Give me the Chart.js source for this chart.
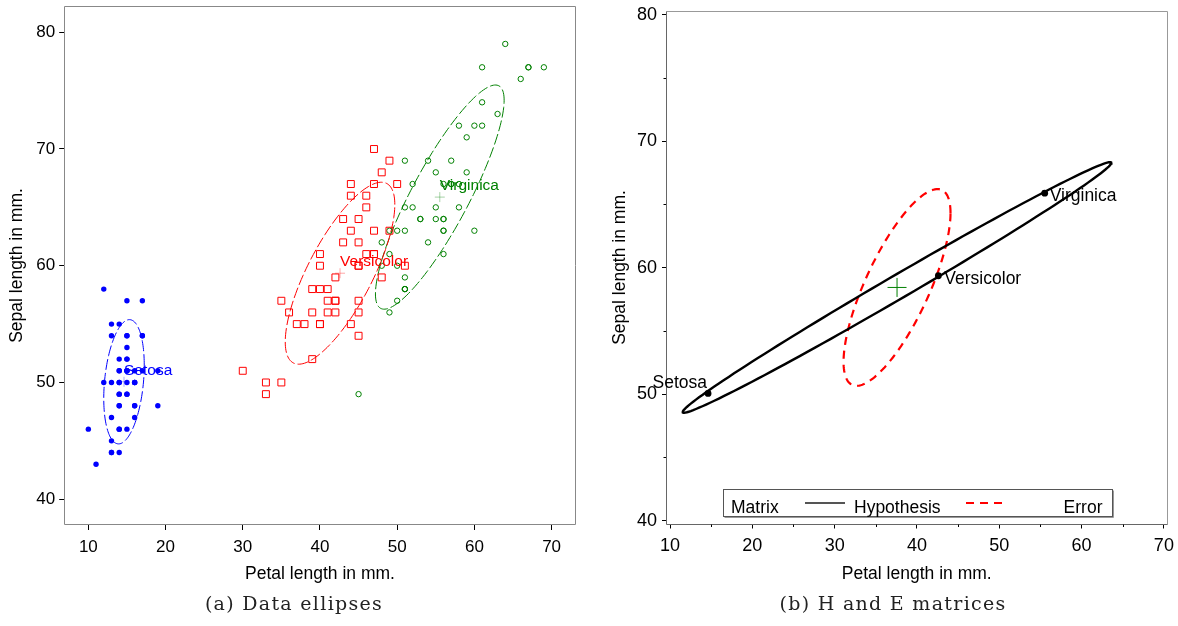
<!DOCTYPE html>
<html>
<head>
<meta charset="utf-8">
<script src="https://cdn.jsdelivr.net/npm/chart.js@4.4.1/dist/chart.umd.min.js"></script>
<style>
  html, body { margin: 0; padding: 0; background: #fff; }
  body { width: 1178px; height: 626px; position: relative; overflow: hidden; }
  canvas { position: absolute; top: 0; }
  #cLeft { left: 0; }
  #cRight { left: 600px; }
  .caption {
    position: absolute; top: 592.7px; line-height: 20px;
    font-family: 'DejaVu Serif', 'Liberation Serif', serif; font-size: 19px;
    letter-spacing: 1.3px; color: #222; white-space: nowrap;
    transform: translateX(-50%);
  }
</style>
</head>
<body>
<canvas id="cLeft" width="600" height="626"></canvas>
<canvas id="cRight" width="578" height="626"></canvas>
<div class="caption" style="left:294px">(a) Data ellipses</div>
<div class="caption" style="left:893px">(b) H and E matrices</div>
<script>
// Iris data, petal length and sepal length in mm, one pair of arrays per species
const SPECIES = ['Setosa', 'Versicolor', 'Virginica'];

const SETOSA_PETAL = [14, 14, 13, 15, 14, 17, 14, 15, 14, 15, 15, 16, 14, 11, 12, 15, 13, 14, 17, 15,
  17, 15, 10, 17, 19, 16, 16, 15, 14, 16, 16, 15, 15, 14, 15, 12, 13, 14, 13, 15,
  13, 13, 13, 16, 19, 14, 16, 14, 15, 14];
const SETOSA_SEPAL = [51, 49, 47, 46, 50, 54, 46, 50, 44, 49, 54, 48, 48, 43, 58, 57, 54, 51, 57, 51,
  54, 51, 46, 51, 48, 50, 50, 52, 52, 47, 48, 54, 52, 55, 49, 50, 55, 49, 44, 51,
  50, 45, 44, 50, 51, 48, 51, 46, 53, 50];

const VERSICOLOR_PETAL = [47, 45, 49, 40, 46, 45, 47, 33, 46, 39, 35, 42, 40, 47, 36, 44, 45, 41, 45, 39,
  48, 40, 49, 47, 43, 44, 48, 50, 45, 35, 38, 37, 39, 51, 45, 45, 47, 44, 41, 40,
  44, 46, 40, 33, 42, 42, 42, 43, 30, 41];
const VERSICOLOR_SEPAL = [70, 64, 69, 55, 65, 57, 63, 49, 66, 52, 50, 59, 60, 61, 56, 67, 56, 58, 62, 56,
  59, 61, 63, 61, 64, 66, 68, 67, 60, 57, 55, 55, 58, 60, 54, 60, 67, 63, 56, 55,
  55, 61, 58, 50, 56, 57, 57, 62, 51, 57];

const VIRGINICA_PETAL = [60, 51, 59, 56, 58, 66, 45, 63, 58, 61, 51, 53, 55, 50, 51, 53, 55, 67, 69, 50,
  57, 49, 67, 49, 57, 60, 48, 49, 56, 58, 61, 64, 56, 51, 56, 61, 56, 55, 48, 54,
  56, 51, 51, 59, 57, 52, 50, 52, 54, 51];
const VIRGINICA_SEPAL = [63, 58, 71, 63, 65, 76, 49, 73, 67, 72, 65, 64, 68, 57, 58, 64, 65, 77, 77, 60,
  69, 56, 77, 63, 67, 72, 62, 61, 64, 72, 74, 79, 64, 63, 61, 77, 63, 64, 60, 69,
  67, 69, 58, 68, 67, 67, 63, 65, 62, 59];

const X_TICKS = [10, 20, 30, 40, 50, 60, 70];
const Y_TICKS = [40, 50, 60, 70, 80];
const X_MINOR = [15, 25, 35, 45, 55, 65];
const Y_MINOR = [45, 55, 65, 75];

const LEGEND_TITLE = 'Matrix';
const LEGEND_ITEMS = ['Hypothesis', 'Error'];

// ellipse radius for 68% coverage
const ELLIPSE_C = 1.51;

const FONT = "'Liberation Sans', Arial, Helvetica, sans-serif";
const COLORS = ['#0000ff', '#ff0000', '#008000'];
const LIGHT = ['rgba(0,0,255,0.35)', 'rgba(255,0,0,0.35)', 'rgba(0,128,0,0.35)'];

Chart.defaults.font.family = FONT;
Chart.defaults.color = '#000';

// ---- stats ----
function meanOf(a) { return a.reduce((s, v) => s + v, 0) / a.length; }

function groupStats(xs, ys) {
  const mx = meanOf(xs), my = meanOf(ys);
  let sxx = 0, syy = 0, sxy = 0;
  xs.forEach((x, i) => {
    const dx = x - mx, dy = ys[i] - my;
    sxx += dx * dx; syy += dy * dy; sxy += dx * dy;
  });
  return { n: xs.length, mx, my, sxx, syy, sxy };
}

function ellipse(cx, cy, vxx, vyy, vxy, c) {
  const sx = Math.sqrt(vxx), sy = Math.sqrt(vyy), r = vxy / (sx * sy);
  const pts = [];
  for (let i = 0; i <= 160; i++) {
    const t = i / 160 * 2 * Math.PI;
    pts.push({
      x: cx + c * sx * Math.cos(t),
      y: cy + c * sy * (r * Math.cos(t) + Math.sqrt(1 - r * r) * Math.sin(t)),
    });
  }
  return pts;
}

const groups = [
  [SETOSA_PETAL, SETOSA_SEPAL],
  [VERSICOLOR_PETAL, VERSICOLOR_SEPAL],
  [VIRGINICA_PETAL, VIRGINICA_SEPAL],
];
const stats = groups.map(g => groupStats(g[0], g[1]));
const points = groups.map(g => g[0].map((x, i) => ({ x, y: g[1][i] })));

const N = stats.reduce((s, g) => s + g.n, 0);
const dfe = N - stats.length;
const grand = {
  x: meanOf([].concat(...groups.map(g => g[0]))),
  y: meanOf([].concat(...groups.map(g => g[1]))),
};
const E = { xx: 0, yy: 0, xy: 0 };
const H = { xx: 0, yy: 0, xy: 0 };
stats.forEach(g => {
  E.xx += g.sxx; E.yy += g.syy; E.xy += g.sxy;
  const dx = g.mx - grand.x, dy = g.my - grand.y;
  H.xx += g.n * dx * dx; H.yy += g.n * dy * dy; H.xy += g.n * dx * dy;
});

// ---- shared bits ----
function fixedTicks(values) {
  return scale => { scale.ticks = values.map(v => ({ value: v })); };
}
function fitX(h) {
  return s => { s.height = h; s.paddingLeft = 0; s.paddingRight = 0; };
}
function fitY(w) {
  return s => { s.width = w; s.paddingTop = 0; s.paddingBottom = 0; };
}

const framePlugin = {
  id: 'frame',
  beforeDatasetsDraw(chart, args, opts) {
    const { ctx, chartArea: a } = chart;
    const l = Math.round(a.left) + 0.5, t = Math.round(a.top) + 0.5;
    const r = Math.round(a.right) - 0.5, b = Math.round(a.bottom) - 0.5;
    ctx.save();
    ctx.lineWidth = 1;
    ctx.strokeStyle = opts.other;
    ctx.beginPath();
    ctx.moveTo(l, t); ctx.lineTo(r, t); ctx.lineTo(r, b);
    ctx.stroke();
    ctx.strokeStyle = opts.axes;
    ctx.beginPath();
    ctx.moveTo(l, t); ctx.lineTo(l, b); ctx.lineTo(r, b);
    ctx.stroke();
    ctx.restore();
  },
};

// ---- left: data ellipses ----
const leftLabels = {
  id: 'leftLabels',
  afterDatasetsDraw(chart) {
    const { ctx, scales: { x, y } } = chart;
    ctx.save();
    ctx.font = '15.5px ' + FONT;
    ctx.textBaseline = 'middle';
    ctx.textAlign = 'left';
    stats.forEach((g, i) => {
      ctx.fillStyle = COLORS[i];
      ctx.fillText(SPECIES[i], x.getPixelForValue(g.mx), y.getPixelForValue(g.my) - 11.5);
    });
    ctx.restore();
  },
};

const leftDatasets = [
  { data: points[0], pointStyle: 'circle', pointRadius: 2.7, backgroundColor: COLORS[0], borderColor: COLORS[0], borderWidth: 0 },
  { data: points[1], pointStyle: 'rect', pointRadius: 4.9, backgroundColor: 'rgba(0,0,0,0)', borderColor: COLORS[1], borderWidth: 1 },
  { data: points[2], pointStyle: 'circle', pointRadius: 2.7, backgroundColor: 'rgba(0,0,0,0)', borderColor: COLORS[2], borderWidth: 1 },
];
stats.forEach((g, i) => {
  leftDatasets.push({
    data: ellipse(g.mx, g.my, g.sxx / (g.n - 1), g.syy / (g.n - 1), g.sxy / (g.n - 1), ELLIPSE_C),
    showLine: true, pointRadius: 0, borderColor: COLORS[i], borderWidth: 1,
    borderDash: [11, 3], fill: false, tension: 0,
  });
  leftDatasets.push({
    data: [{ x: g.mx, y: g.my }], pointStyle: 'cross', pointRadius: 5,
    borderColor: LIGHT[i], borderWidth: 1,
  });
});

function axisX(min, max, opts) {
  return {
    type: 'linear', min, max,
    afterBuildTicks: fixedTicks(X_TICKS),
    afterFit: fitX(opts.height),
    grid: { drawOnChartArea: false, drawTicks: true, tickLength: opts.tick, color: '#000', tickColor: '#000' },
    border: { display: false },
    ticks: { padding: opts.pad, color: '#000', maxRotation: 0, autoSkip: false, font: { size: opts.size } },
    title: { display: true, text: 'Petal length in mm.', color: '#000', font: { size: 17.5 }, padding: { top: 0, bottom: 0 } },
  };
}
function axisY(min, max, opts) {
  return {
    type: 'linear', min, max,
    afterBuildTicks: fixedTicks(Y_TICKS),
    afterFit: fitY(opts.width),
    grid: { drawOnChartArea: false, drawTicks: true, tickLength: opts.tick, color: '#000', tickColor: '#000' },
    border: { display: false },
    ticks: { padding: opts.pad, color: '#000', autoSkip: false, font: { size: opts.size } },
    title: { display: true, text: 'Sepal length in mm.', color: '#000', font: { size: 17.5 }, padding: { top: opts.titlePad, bottom: 0 } },
  };
}

new Chart(document.getElementById('cLeft'), {
  type: 'scatter',
  data: { datasets: leftDatasets },
  options: {
    responsive: false,
    animation: false,
    layout: { padding: { left: 0, top: 5.7, right: 23.7, bottom: 41.5 } },
    plugins: {
      legend: { display: false },
      tooltip: { enabled: false },
      frame: { axes: '#888', other: '#888' },
    },
    scales: {
      x: axisX(6.81, 73.2, { height: 59.5, tick: 5, pad: 7, size: 17 }),
      y: axisY(37.79, 82.25, { width: 63.7, tick: 4.5, pad: 4, size: 17, titlePad: 6.5 }),
    },
  },
  plugins: [framePlugin, leftLabels],
});

// ---- right: H and E matrices ----
const rightExtras = {
  id: 'rightExtras',
  afterDatasetsDraw(chart) {
    const { ctx, chartArea: a, scales: { x, y } } = chart;
    ctx.save();
    // minor ticks
    ctx.strokeStyle = '#000';
    ctx.lineWidth = 1;
    ctx.beginPath();
    X_MINOR.forEach(v => {
      const px = Math.round(x.getPixelForValue(v)) + 0.5;
      ctx.moveTo(px, a.bottom); ctx.lineTo(px, a.bottom + 2.5);
    });
    Y_MINOR.forEach(v => {
      const py = Math.round(y.getPixelForValue(v)) + 0.5;
      ctx.moveTo(a.left, py); ctx.lineTo(a.left - 2.5, py);
    });
    ctx.stroke();

    // group labels
    ctx.font = '17.5px ' + FONT;
    ctx.fillStyle = '#000';
    ctx.textBaseline = 'middle';
    const place = [
      { align: 'right', dx: -1, dy: -10 },
      { align: 'left', dx: 6, dy: 3 },
      { align: 'left', dx: 5, dy: 3.4 },
    ];
    stats.forEach((g, i) => {
      ctx.textAlign = place[i].align;
      ctx.fillText(SPECIES[i], x.getPixelForValue(g.mx) + place[i].dx, y.getPixelForValue(g.my) + place[i].dy);
    });

    // legend
    const bl = Math.round(a.left + 57) + 0.5, bt = Math.round(a.bottom - 35.5) + 0.5;
    const bw = 389, bh = 27;
    ctx.fillStyle = '#fff';
    ctx.fillRect(bl, bt, bw, bh);
    ctx.strokeStyle = '#999';
    ctx.beginPath();
    ctx.moveTo(bl + bw + 1, bt + 1); ctx.lineTo(bl + bw + 1, bt + bh + 1); ctx.lineTo(bl + 1, bt + bh + 1);
    ctx.stroke();
    ctx.strokeStyle = '#555';
    ctx.strokeRect(bl, bt, bw, bh);

    const ty = a.bottom - 12, ly = a.bottom - 21.5;
    ctx.fillStyle = '#000';
    ctx.textBaseline = 'alphabetic';
    ctx.textAlign = 'left';
    ctx.fillText(LEGEND_TITLE, a.left + 65, ty);
    ctx.lineWidth = 1.8;
    ctx.beginPath();
    ctx.moveTo(a.left + 139, ly); ctx.lineTo(a.left + 179, ly);
    ctx.stroke();
    ctx.fillText(LEGEND_ITEMS[0], a.left + 188, ty);
    ctx.strokeStyle = '#ff0000';
    ctx.lineWidth = 2.2;
    ctx.setLineDash([8, 6]);
    ctx.beginPath();
    ctx.moveTo(a.left + 300, ly); ctx.lineTo(a.left + 336, ly);
    ctx.stroke();
    ctx.setLineDash([]);
    ctx.textAlign = 'right';
    ctx.fillText(LEGEND_ITEMS[1], a.right - 65, ty);
    ctx.restore();
  },
};

new Chart(document.getElementById('cRight'), {
  type: 'scatter',
  data: {
    datasets: [
      {
        data: stats.map(g => ({ x: g.mx, y: g.my })),
        pointStyle: 'circle', pointRadius: 3.4, backgroundColor: '#000', borderColor: '#000', borderWidth: 0,
      },
      {
        data: ellipse(grand.x, grand.y, H.xx / dfe, H.yy / dfe, H.xy / dfe, ELLIPSE_C),
        showLine: true, pointRadius: 0, borderColor: '#000', borderWidth: 2.4, fill: false, tension: 0,
      },
      {
        data: ellipse(grand.x, grand.y, E.xx / dfe, E.yy / dfe, E.xy / dfe, ELLIPSE_C),
        showLine: true, pointRadius: 0, borderColor: '#ff0000', borderWidth: 2.2, borderDash: [8, 6],
        fill: false, tension: 0,
      },
      {
        data: [grand], pointStyle: 'cross', pointRadius: 9.5, borderColor: '#008000', borderWidth: 1,
      },
    ],
  },
  options: {
    responsive: false,
    animation: false,
    layout: { padding: { left: 0, top: 10, right: 10, bottom: 41.5 } },
    plugins: {
      legend: { display: false },
      tooltip: { enabled: false },
      frame: { axes: '#666', other: '#999' },
    },
    scales: {
      x: axisX(9.51, 70.44, { height: 60, tick: 4, pad: 7, size: 18 }),
      y: axisY(39.70, 80.32, { width: 66, tick: 4, pad: 5, size: 18, titlePad: 9.5 }),
    },
  },
  plugins: [framePlugin, rightExtras],
});
</script>
</body>
</html>
